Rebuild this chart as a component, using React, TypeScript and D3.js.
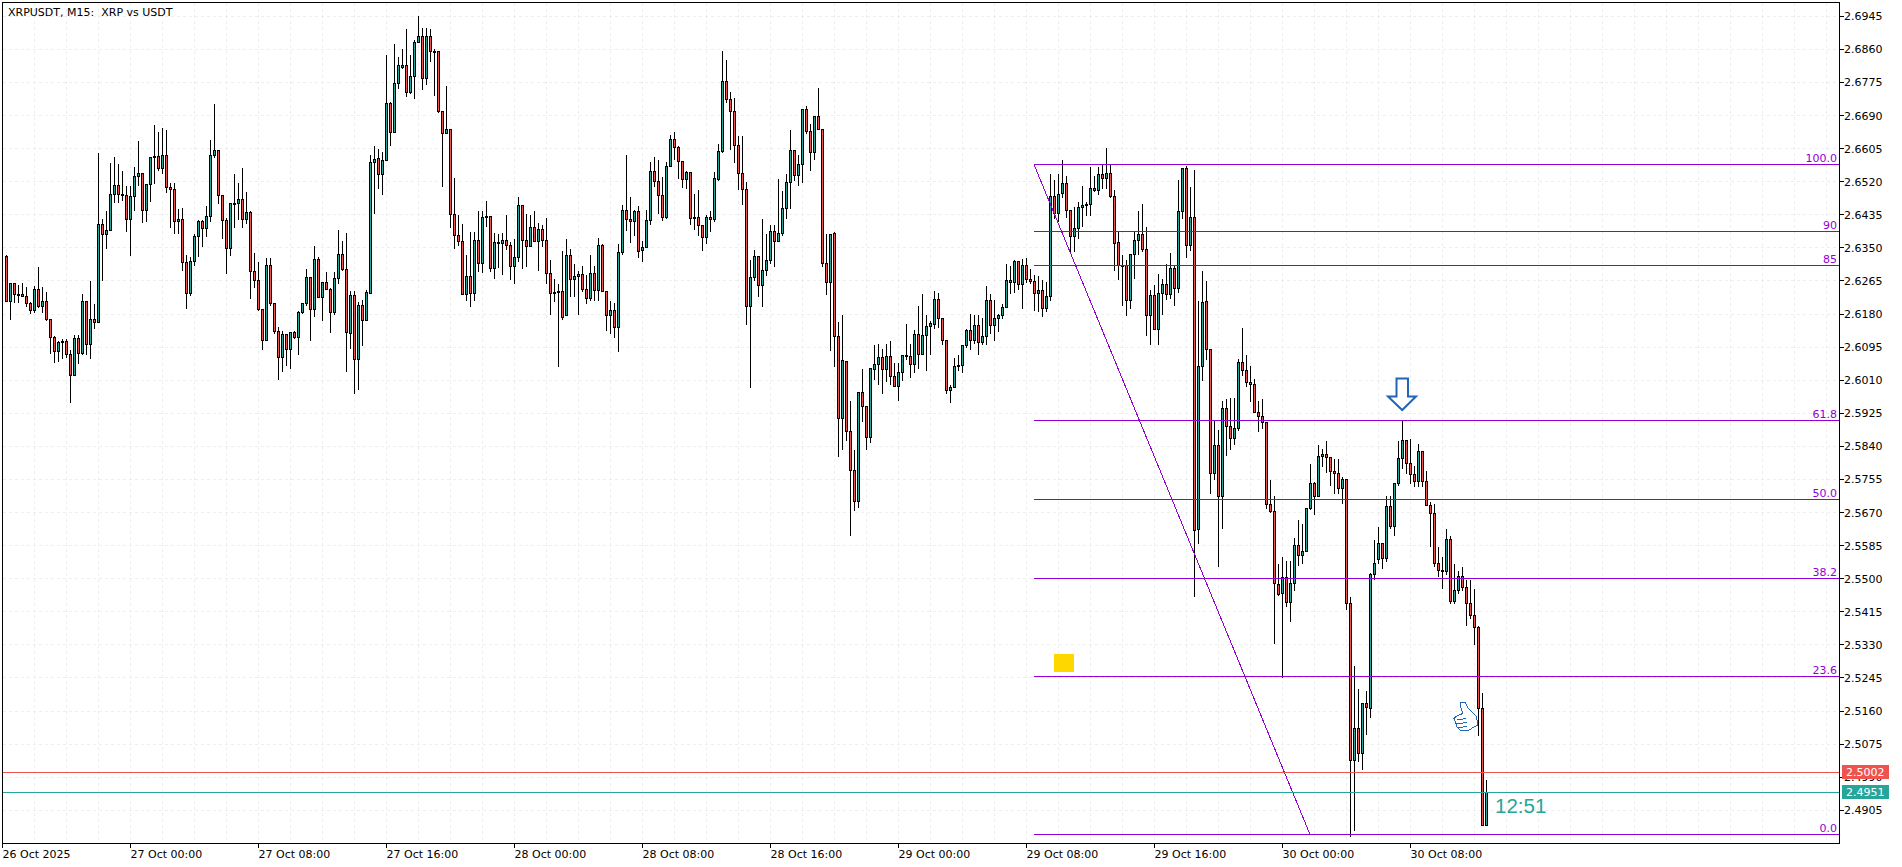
import React from "react";
import * as d3 from "d3";

// Candles in 0.0001 USDT units: [open, high, low, close], one list per 8-hour axis section
const bars26Oct16: number[][] = [
[26326,26372,26326,26326],[26327,26332,26212,26212],[26212,26259,26165,26259],[26259,26262,26209,26230],[26231,26255,26209,26229],[26231,26262,26225,26225],[26226,26250,26199,26208],[26208,26213,26182,26189],[26189,26254,26184,26244],[26244,26301,26197,26199],[26199,26252,26184,26213],[26213,26237,26163,26166],[26166,26166,26079,26120],[26120,26126,26055,26084],[26084,26113,26058,26107],[26110,26118,26066,26107],[26110,26118,26069,26076],[26077,26088,25952,26022],[26022,26128,26022,26118],[26118,26128,26052,26079],[26079,26232,26076,26213],[26213,26213,26075,26102],[26102,26265,26067,26166],[26166,26208,26142,26158],[26158,26594,26158,26411],[26411,26426,26266,26385],[26385,26445,26348,26395],[26395,26570,26395,26488],[26488,26584,26466,26511],[26511,26567,26466,26488],[26488,26550,26473,26485],[26485,26511,26392,26423],
];
const bars27Oct00: number[][] = [
[26423,26511,26330,26483],[26483,26559,26447,26534],[26534,26625,26509,26542],[26542,26542,26415,26447],[26447,26513,26417,26513],[26513,26583,26469,26583],[26585,26668,26516,26583],[26585,26649,26550,26554],[26554,26660,26542,26588],[26588,26653,26492,26506],[26506,26518,26402,26500],[26500,26517,26387,26418],[26418,26452,26387,26423],[26423,26454,26291,26313],[26313,26332,26194,26233],[26233,26328,26228,26316],[26316,26387,26304,26380],[26380,26422,26329,26419],[26418,26422,26353,26400],[26400,26460,26379,26431],[26431,26629,26417,26588],[26588,26720,26583,26601],[26601,26601,26463,26485],[26485,26485,26374,26421],[26421,26429,26284,26349],[26349,26465,26330,26465],[26465,26540,26403,26463],[26465,26518,26424,26475],[26475,26557,26403,26423],[26423,26494,26413,26441],[26441,26446,26220,26290],[26290,26339,26249,26267],
];
const bars27Oct08: number[][] = [
[26267,26314,26189,26191],[26192,26192,26089,26112],[26112,26326,26112,26304],[26304,26326,26203,26208],[26208,26208,26130,26135],[26135,26149,26013,26068],[26068,26139,26032,26128],[26128,26130,26049,26090],[26090,26135,26039,26133],[26133,26139,26118,26119],[26119,26188,26077,26184],[26184,26208,26182,26207],[26207,26298,26203,26274],[26274,26274,26112,26191],[26191,26357,26173,26321],[26321,26329,26222,26222],[26222,26263,26163,26262],[26262,26289,26242,26244],[26244,26249,26132,26184],[26184,26289,26178,26272],[26272,26398,26259,26334],[26334,26370,26293,26295],[26295,26389,26032,26132],[26130,26240,26092,26228],[26228,26240,25975,26064],[26064,26212,25987,26202],[26202,26218,26099,26164],[26164,26244,26164,26236],[26234,26589,26233,26570],[26570,26614,26439,26578],[26579,26605,26503,26539],[26539,26597,26486,26575],
];
const bars27Oct16: number[][] = [
[26575,26848,26575,26721],[26721,26726,26614,26647],[26647,26874,26647,26773],[26773,26843,26760,26819],[26813,26863,26812,26819],[26819,26914,26739,26749],[26749,26846,26747,26791],[26791,26886,26734,26878],[26878,26946,26878,26894],[26894,26916,26757,26786],[26786,26917,26769,26894],[26894,26914,26830,26855],[26855,26863,26741,26853],[26855,26855,26698,26700],[26700,26704,26507,26644],[26644,26766,26644,26655],[26655,26655,26402,26436],[26436,26531,26349,26382],[26382,26436,26357,26367],[26367,26413,26230,26230],[26230,26334,26216,26277],[26277,26392,26199,26233],[26233,26392,26216,26369],[26369,26447,26289,26310],[26310,26447,26286,26429],[26430,26473,26405,26428],[26430,26430,26289,26297],[26297,26390,26271,26364],[26363,26387,26299,26361],[26361,26390,26281,26369],[26369,26435,26345,26356],[26356,26366,26268,26303],
];
const bars28Oct00: number[][] = [
[26303,26375,26258,26326],[26326,26481,26315,26459],[26459,26459,26298,26369],[26369,26439,26302,26353],[26353,26435,26353,26403],[26403,26447,26366,26366],[26366,26415,26292,26398],[26398,26411,26353,26369],[26369,26429,26258,26284],[26284,26321,26179,26233],[26236,26272,26212,26232],[26235,26259,26045,26238],[26238,26342,26165,26171],[26176,26375,26176,26331],[26331,26349,26225,26269],[26269,26309,26225,26277],[26276,26292,26180,26281],[26282,26304,26238,26244],[26244,26282,26206,26220],[26220,26332,26216,26285],[26285,26304,26216,26241],[26241,26377,26216,26357],[26357,26362,26238,26238],[26238,26238,26137,26176],[26176,26214,26130,26190],[26190,26210,26119,26146],[26146,26360,26083,26339],[26339,26462,26332,26447],[26447,26591,26394,26423],[26423,26483,26363,26417],[26417,26449,26383,26444],[26444,26460,26326,26341],
];
const bars28Oct08: number[][] = [
[26343,26368,26315,26351],[26351,26449,26351,26421],[26421,26572,26410,26547],[26547,26586,26507,26521],[26521,26578,26439,26485],[26485,26533,26420,26427],[26427,26572,26425,26560],[26560,26642,26560,26629],[26629,26648,26576,26608],[26609,26613,26527,26572],[26572,26572,26505,26526],[26526,26550,26503,26544],[26544,26544,26411,26425],[26428,26489,26396,26425],[26429,26499,26383,26407],[26407,26407,26343,26377],[26377,26437,26361,26429],[26429,26447,26392,26423],[26423,26547,26417,26529],[26525,26619,26523,26598],[26598,26856,26595,26778],[26778,26835,26724,26732],[26732,26753,26604,26701],[26701,26737,26569,26614],[26614,26638,26499,26542],[26542,26638,26461,26500],[26500,26520,26153,26200],[26200,26321,25991,26274],[26274,26347,26266,26328],[26328,26328,26226,26254],[26254,26426,26199,26292],[26292,26387,26278,26318],
];
const bars28Oct16: number[][] = [
[26318,26411,26309,26393],[26393,26411,26302,26367],[26367,26529,26366,26387],[26387,26497,26382,26452],[26452,26542,26425,26518],[26518,26653,26450,26601],[26601,26604,26522,26537],[26537,26589,26510,26565],[26565,26706,26519,26706],[26706,26715,26644,26649],[26650,26670,26548,26595],[26595,26687,26577,26687],[26687,26763,26653,26655],[26655,26655,26302,26310],[26310,26386,26229,26261],[26261,26387,26086,26385],[26387,26391,26045,26123],[26123,26162,25814,25912],[25912,26180,25831,26061],[26059,26059,25856,25878],[25879,25959,25612,25779],[25779,25832,25675,25698],[25698,25979,25683,25979],[25979,26039,25905,25942],[25942,25942,25833,25862],[25862,26043,25850,26039],[26037,26103,26012,26051],[26050,26105,25998,26069],[26069,26091,25975,26037],[26037,26105,26006,26071],[26071,26113,25998,26019],[26019,26056,25994,25994],
];
const bars29Oct00: number[][] = [
[25994,26056,25959,26030],[26030,26074,26009,26074],[26074,26156,26062,26071],[26071,26105,26017,26050],[26050,26141,26029,26128],[26128,26203,26040,26077],[26077,26232,26077,26125],[26125,26180,26035,26148],[26148,26163,26077,26156],[26154,26241,26142,26218],[26218,26236,26146,26169],[26169,26172,26101,26112],[26112,26112,25975,25984],[25984,26000,25954,25992],[25992,26068,25992,26046],[26045,26075,26036,26048],[26047,26102,26029,26100],[26100,26143,26094,26138],[26138,26182,26088,26112],[26112,26180,26105,26151],[26151,26180,26077,26107],[26107,26172,26101,26123],[26123,26254,26101,26215],[26215,26233,26129,26151],[26151,26218,26112,26169],[26169,26182,26135,26177],[26177,26208,26169,26197],[26197,26309,26197,26267],[26267,26304,26233,26262],[26262,26321,26236,26316],[26316,26316,26242,26256],[26256,26323,26194,26305],
];
const bars29Oct08: number[][] = [
[26305,26326,26262,26269],[26269,26298,26259,26264],[26264,26281,26189,26233],[26233,26280,26186,26241],[26241,26268,26173,26195],[26195,26263,26186,26226],[26226,26542,26216,26482],[26482,26525,26426,26439],[26439,26542,26417,26488],[26490,26576,26480,26516],[26516,26535,26428,26447],[26447,26447,26340,26379],[26379,26456,26340,26400],[26400,26469,26375,26454],[26454,26509,26406,26459],[26459,26469,26432,26462],[26462,26560,26433,26503],[26503,26535,26495,26497],[26497,26559,26486,26539],[26539,26563,26503,26529],[26529,26607,26503,26542],[26542,26563,26480,26482],[26482,26499,26292,26362],[26364,26392,26268,26304],[26304,26334,26203,26302],[26304,26321,26176,26214],[26214,26334,26193,26334],[26334,26392,26271,26369],[26369,26446,26332,26385],[26385,26463,26340,26346],[26346,26406,26126,26177],[26176,26244,26101,26228],
];
const bars29Oct16: number[][] = [
[26228,26255,26141,26141],[26141,26285,26101,26233],[26233,26272,26180,26256],[26256,26309,26218,26231],[26231,26339,26220,26298],[26298,26304,26203,26246],[26246,26526,26235,26444],[26444,26554,26426,26554],[26554,26562,26326,26357],[26357,26507,26342,26429],[26429,26552,25454,25624],[25627,26216,25591,26045],[26045,26291,26009,26210],[26213,26265,26062,26089],[26089,26089,25719,25771],[25771,25910,25756,25843],[25843,25884,25531,25711],[25711,25959,25629,25938],[25938,25964,25816,25892],[25892,25966,25831,25861],[25861,25965,25844,25886],[25886,26066,25880,26056],[26056,26146,26022,26035],[26035,26077,25995,26005],[26005,26047,25955,26000],[26000,26015,25928,25928],[25928,25957,25878,25916],[25916,25962,25886,25902],[25902,25902,25680,25691],[25691,25756,25670,25672],[25672,25715,25334,25487],[25486,25540,25456,25460],
];
const bars30Oct00: number[][] = [
[25462,25557,25247,25503],[25503,25548,25428,25439],[25439,25548,25389,25488],[25487,25606,25471,25586],[25586,25653,25535,25559],[25559,25641,25538,25570],[25569,25681,25569,25681],[25681,25796,25677,25745],[25745,25749,25664,25711],[25711,25844,25711,25814],[25814,25835,25788,25820],[25820,25856,25772,25811],[25811,25814,25739,25775],[25775,25809,25719,25770],[25770,25809,25718,25731],[25731,25762,25692,25755],[25755,25755,25420,25437],[25437,25454,24837,25032],[25032,25278,24854,25116],[25116,25218,25030,25050],[25050,25182,25011,25180],[25180,25212,25099,25168],[25167,25516,25143,25510],[25510,25600,25497,25540],[25550,25634,25538,25591],[25591,25591,25527,25552],[25552,25713,25544,25685],[25685,25713,25629,25634],[25634,25745,25610,25745],[25745,25856,25739,25809],[25809,25906,25782,25856],[25856,25856,25771,25796],
];
const bars30Oct08: number[][] = [
[25796,25859,25745,25768],[25768,25792,25737,25749],[25749,25848,25737,25828],[25828,25828,25737,25749],[25749,25779,25688,25688],[25688,25698,25582,25668],[25668,25694,25531,25540],[25540,25582,25505,25521],[25522,25557,25475,25519],[25518,25629,25512,25601],[25601,25612,25437,25441],[25441,25540,25437,25471],[25471,25522,25462,25505],[25505,25531,25471,25478],[25478,25497,25381,25437],[25437,25498,25398,25406],[25406,25475,25330,25375],[25375,25381,25096,25167],[25167,25208,24865,24865],[24865,24985,24865,24951],
];

const timeLabels = ["26 Oct 2025","27 Oct 00:00","27 Oct 08:00","27 Oct 16:00","28 Oct 00:00","28 Oct 08:00","28 Oct 16:00","29 Oct 00:00","29 Oct 08:00","29 Oct 16:00","30 Oct 00:00","30 Oct 08:00"];
const priceTicks = [2.6945,2.686,2.6775,2.669,2.6605,2.652,2.6435,2.635,2.6265,2.618,2.6095,2.601,2.5925,2.584,2.5755,2.567,2.5585,2.55,2.5415,2.533,2.5245,2.516,2.5075,2.499,2.4905];
const fibLevels = [100,90,85,61.8,50,38.2,23.6,0];
const fibLabels = ["100.0","90","85","61.8","50.0","38.2","23.6","0.0"];
const fibHigh = 2.6565;
const fibLow = 2.4843;
const askPrice = 2.5002;
const bidPrice = 2.4951;
const BARS_PER_TICK = 32;

const TEAL = "#26a69a";
const RED = "#ef5350";
const PURPLE = "#9400d3";
const BLUE = "#1f66b8";
const FONT = "'DejaVu Sans', sans-serif";

const W = 1902, H = 867, L = 2.5, R = 1839.5, T = 2.5, B = 843.5;

export default function App() {
  const bars = [
    ...bars26Oct16, ...bars27Oct00, ...bars27Oct08, ...bars27Oct16, ...bars28Oct00, ...bars28Oct08,
    ...bars28Oct16, ...bars29Oct00, ...bars29Oct08, ...bars29Oct16, ...bars30Oct00, ...bars30Oct08,
  ];
  const x = d3.scaleLinear().domain([0, bars.length - 1]).range([2.5, 2.5 + 4 * (bars.length - 1)]);
  const y = d3.scaleLinear().domain([2.6945, 2.4905]).range([16.3, 810.3]);
  const px = (v: number) => Math.round(y(v) - 0.5) + 0.5;
  const fibY = (lv: number) => Math.round(y(fibLow + ((fibHigh - fibLow) * lv) / 100) - 0.2) + 0.5;
  const fibStartX = 1034;
  const trendEndX = 1310;
  const gridX = d3.range(L + 32, R, 32);

  return (
    <svg width={W} height={H} viewBox={`0 0 ${W} ${H}`} style={{ position: "absolute", left: 0, top: 0, background: "#fff" }} fontFamily={FONT} fontSize={11}>
      <defs>
        <clipPath id="plot"><rect x={L} y={T} width={R - L} height={B - T} /></clipPath>
      </defs>
      <g stroke="#eeeeee" strokeDasharray="3 3" shapeRendering="crispEdges">
        {gridX.map((gx) => <line key={gx} x1={Math.floor(gx) + 0.5} x2={Math.floor(gx) + 0.5} y1={T} y2={B} />)}
        {priceTicks.map((p) => <line key={p} x1={L} x2={R} y1={px(p)} y2={px(p)} />)}
      </g>
      <g clipPath="url(#plot)" shapeRendering="crispEdges">
        {bars.map((b, i) => {
          const [o, h, l, c] = b.map((v) => v / 10000);
          const cx = x(i);
          const top = px(Math.max(o, c));
          const bot = px(Math.min(o, c));
          return (
            <g key={i}>
              <line x1={cx} x2={cx} y1={px(h)} y2={px(l)} stroke="#000" />
              {i > 0 && <rect x={cx - 1} width={2} y={top} height={Math.max(bot - top, 1)} fill={c >= o ? TEAL : RED} stroke="#000" />}
            </g>
          );
        })}
      </g>
      {fibLevels.map((lv, i) => (
        <g key={lv}>
          <line x1={fibStartX} x2={R} y1={fibY(lv)} y2={fibY(lv)} stroke={PURPLE} strokeWidth={1} shapeRendering="crispEdges" />
          <text x={1837} y={fibY(lv) - 3} textAnchor="end" fill={PURPLE}>{fibLabels[i]}</text>
        </g>
      ))}
      <line x1={fibStartX} y1={fibY(100)} x2={trendEndX} y2={fibY(0)} stroke={PURPLE} strokeWidth={1} shapeRendering="crispEdges" />
      <line x1={L} x2={R} y1={px(askPrice)} y2={px(askPrice)} stroke={RED} shapeRendering="crispEdges" />
      <line x1={L} x2={R} y1={px(bidPrice)} y2={px(bidPrice)} stroke={TEAL} shapeRendering="crispEdges" />
      <rect x={1054} y={654} width={20} height={18} fill="#ffd700" />
      <polygon points="1396.5,378.5 1408,378.5 1408,396.5 1416,396.5 1402.2,410 1388,396.5 1396.5,396.5" fill="#fff" stroke={BLUE} strokeWidth={2} />
      <path
        d="M1477.5,725 L1476.7,717 L1468.3,708.5 L1465,702 L1460.7,702 L1460.7,707 L1462.7,713.5 L1456.7,716 L1454,718.5 L1456,723.5 L1456.7,727 L1460,730 L1468.3,730.7 L1473.3,727.3 Z M1456.7,720 L1466,718.5 M1456.7,723.5 L1466.7,722.7 M1458.3,727.3 L1467.3,726.7"
        fill="#fff" stroke={BLUE} strokeWidth={1} shapeRendering="crispEdges"
      />
      <text x={1495} y={812.5} fontFamily="'Liberation Sans', sans-serif" fontSize={20.5} fill={TEAL}>12:51</text>
      <rect x={L} y={T} width={R - L} height={B - T} fill="none" stroke="#000" shapeRendering="crispEdges" />
      <text x={8} y={15.5} style={{ whiteSpace: "pre" }}>{"XRPUSDT, M15:  XRP vs USDT"}</text>
      {priceTicks.map((p) => (
        <g key={p}>
          <line x1={R} x2={R + 4} y1={px(p)} y2={px(p)} stroke="#000" shapeRendering="crispEdges" />
          <text x={1844} y={y(p) + 4}>{p.toFixed(4)}</text>
        </g>
      ))}
      {timeLabels.map((t, i) => {
        const tx = x(i * BARS_PER_TICK);
        return (
          <g key={t}>
            <line x1={tx} x2={tx} y1={B} y2={B + 4} stroke="#000" shapeRendering="crispEdges" />
            <text x={tx} y={858}>{t}</text>
          </g>
        );
      })}
      <rect x={1842} y={765} width={47} height={14} fill={RED} />
      <text x={1846} y={776} fill="#fff">{askPrice.toFixed(4)}</text>
      <rect x={1842} y={785} width={47} height={14} fill={TEAL} />
      <text x={1846} y={796} fill="#fff">{bidPrice.toFixed(4)}</text>
    </svg>
  );
}
